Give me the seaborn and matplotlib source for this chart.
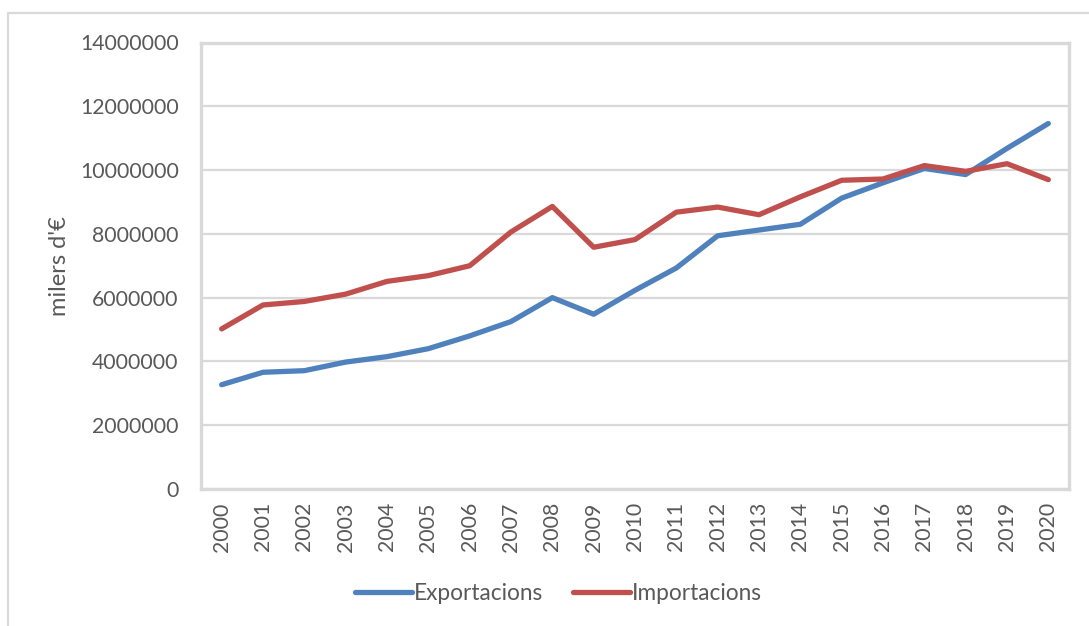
import pandas as pd
import numpy as np
import matplotlib.pyplot as plt
import seaborn as sns
from matplotlib.lines import Line2D

# ── Données (milers d'€)
anys = [str(a) for a in range(2000, 2021)]
exportacions = [3270000, 3660000, 3710000, 3980000, 4150000, 4400000, 4800000, 5250000,
                6000000, 5480000, 6230000, 6930000, 7940000, 8120000, 8300000, 9120000,
                9600000, 10050000, 9860000, 10680000, 11460000]
importacions = [5020000, 5770000, 5880000, 6110000, 6510000, 6690000, 7000000, 8060000,
                8860000, 7580000, 7820000, 8680000, 8840000, 8600000, 9160000, 9680000,
                9720000, 10140000, 9960000, 10200000, 9700000]
series = ['Exportacions', 'Importacions']
colors = ['#4F81BD', '#C0504D']
yticks = list(range(0, 14000001, 2000000))

df = pd.DataFrame({'any': anys * 2,
                   'valor': exportacions + importacions,
                   'serie': [series[0]] * len(anys) + [series[1]] * len(anys)})

sns.set_style('white')
plt.rcParams['font.family'] = ['Lato', 'DejaVu Sans']
text_col = '#595959'
grid_col = '#D9D9D9'

fig = plt.figure(figsize=(10.89, 6.26), dpi=100)
ax = fig.add_axes([201 / 1089, 1 - 489 / 626, (1069 - 201) / 1089, (489 - 42.5) / 626])

sns.lineplot(data=df, x='any', y='valor', hue='serie', palette=colors,
             linewidth=3.8, sort=False, ax=ax, legend=False)
for l in ax.lines:
    l.set_solid_capstyle('round')
    l.set_solid_joinstyle('round')

ax.set_xlim(-0.5, len(anys) - 0.5)
ax.set_ylim(0, 14000000)
ax.set_yticks(yticks)
ax.set_yticklabels([str(v) for v in yticks])
ax.yaxis.grid(True, color=grid_col, linewidth=1.6)
ax.set_axisbelow(True)
for s in ax.spines.values():
    s.set_visible(True)
    s.set_color(grid_col)
    s.set_linewidth(2.4)

ax.tick_params(axis='both', length=0, colors=text_col, labelsize=15.3)
ax.tick_params(axis='y', pad=16)
ax.tick_params(axis='x', pad=9.5)
plt.setp(ax.get_xticklabels(), rotation=90)
ax.set_xlabel('')
ax.set_ylabel("milers d'€", color=text_col, fontsize=17, labelpad=7)

handles = [Line2D([0], [0], color=c, linewidth=3.8, solid_capstyle='round') for c in colors]
leg = fig.legend(handles, series, loc='center', bbox_to_anchor=(0.513, 1 - 593 / 626),
                 ncol=2, frameon=False, fontsize=16.3, handlelength=2.5,
                 handletextpad=0.12, columnspacing=1.3)
for t in leg.get_texts():
    t.set_color(text_col)

# cadre extérieur (gris clair)
fig.add_artist(Line2D([8 / 1089, 1], [1 - 13 / 626, 1 - 13 / 626], color=grid_col, linewidth=1.6))
fig.add_artist(Line2D([8 / 1089, 8 / 1089], [0, 1 - 13 / 626], color=grid_col, linewidth=1.6))

plt.savefig('out.png', dpi=100)
plt.close()
